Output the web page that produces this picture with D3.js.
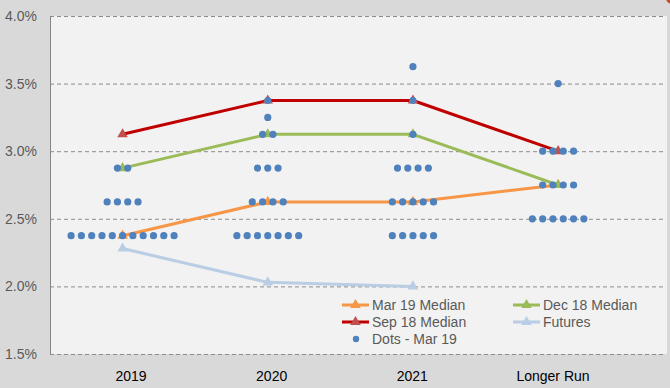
<!DOCTYPE html>
<html>
<head>
<meta charset="utf-8">
<script src="https://cdn.jsdelivr.net/npm/d3@7"></script>
<style>
  body { margin: 0; background: #d9d9d9; }
  svg { display: block; font-family: "Liberation Sans", Arial, sans-serif; }
</style>
</head>
<body>
<svg id="chart" width="670" height="388"></svg>
<script>
// categories on the x axis
var categories = ["2019", "2020", "2021", "Longer Run"];

// median lines
var mar19Median = [2.375, 2.625, 2.625, 2.75];
var dec18Median = [2.875, 3.125, 3.125, 2.75];
var sep18Median = [3.125, 3.375, 3.375, 3.0];
var futures = [2.28, 2.03, 2.00];

// dots - mar 19: rate level and number of dots at that level, per category
var dotRates = [
  [2.875, 2.625, 2.375],
  [3.375, 3.25, 3.125, 2.875, 2.625, 2.375],
  [3.625, 3.375, 3.125, 2.875, 2.625, 2.375],
  [3.5, 3.0, 2.75, 2.5]
];
var dotCounts = [
  [2, 4, 11],
  [1, 1, 2, 3, 4, 7],
  [1, 1, 1, 4, 5, 5],
  [1, 4, 4, 6]
];

var yTicks = [1.5, 2.0, 2.5, 3.0, 3.5, 4.0];

var svg = d3.select("#chart");

var x = d3.scaleLinear().domain([0.5, 4.75]).range([50, 667]);
var y = d3.scaleLinear().domain([1.5, 4.0]).range([354, 16]);
var xLab = d3.scalePoint().domain(categories).range([131, 553]);

var textColor = "#595959";
var dotSpacing = 10.3;

// plot area
svg.append("rect")
  .attr("x", 50).attr("y", 16)
  .attr("width", 617).attr("height", 338)
  .attr("fill", "#f2f2f2");

// gridlines
svg.append("g").selectAll("line")
  .data(yTicks)
  .enter().append("line")
    .attr("x1", 50).attr("x2", 665)
    .attr("y1", function(d) { return y(d) + 0.5; })
    .attr("y2", function(d) { return y(d) + 0.5; })
    .attr("stroke", "#8c8c8c")
    .attr("stroke-width", 1)
    .attr("stroke-dasharray", "4,3");

// y axis line
svg.append("line")
  .attr("x1", 50.5).attr("x2", 50.5)
  .attr("y1", 16).attr("y2", 354.5)
  .attr("stroke", "#868686");

// y labels
svg.append("g").selectAll("text")
  .data(yTicks)
  .enter().append("text")
    .attr("x", 37)
    .attr("y", function(d) { return y(d); })
    .attr("dy", "0.35em")
    .attr("text-anchor", "end")
    .attr("font-size", 14)
    .attr("fill", textColor)
    .text(function(d) { return d.toFixed(1) + "%"; });

// x labels
svg.append("g").selectAll("text")
  .data(categories)
  .enter().append("text")
    .attr("x", function(d) { return xLab(d); })
    .attr("y", 376)
    .attr("dy", "0.35em")
    .attr("text-anchor", "middle")
    .attr("font-size", 14)
    .attr("fill", "#000")
    .text(function(d) { return d; });

var tri = d3.symbol().type(d3.symbolTriangle).size(48);

var series = [
  { name: "Futures", values: futures, line: "#b9cde5", marker: "#b9cde5" },
  { name: "Mar 19 Median", values: mar19Median, line: "#f79646", marker: "#f79646" },
  { name: "Dec 18 Median", values: dec18Median, line: "#9bbb59", marker: "#9bbb59" },
  { name: "Sep 18 Median", values: sep18Median, line: "#c00000", marker: "#c0504d" }
];

var line = d3.line()
  .x(function(d, i) { return x(i + 1); })
  .y(function(d) { return y(d); });

series.forEach(function(s) {
  svg.append("path")
    .attr("d", line(s.values))
    .attr("fill", "none")
    .attr("stroke", s.line)
    .attr("stroke-width", 3)
    .attr("stroke-linejoin", "round");
  svg.append("g").selectAll("path")
    .data(s.values)
    .enter().append("path")
      .attr("d", tri)
      .attr("transform", function(d, i) { return "translate(" + x(i + 1) + "," + y(d) + ")"; })
      .attr("fill", s.marker);
});

// dots
var dots = [];
dotRates.forEach(function(rates, c) {
  rates.forEach(function(r, j) {
    var n = dotCounts[c][j];
    for (var k = 0; k < n; k++) {
      dots.push({ cx: x(c + 1) + (k - (n - 1) / 2) * dotSpacing, rate: r });
    }
  });
});

svg.append("g").selectAll("circle")
  .data(dots)
  .enter().append("circle")
    .attr("cx", function(d) { return d.cx; })
    .attr("cy", function(d) { return y(d.rate); })
    .attr("r", 3.6)
    .attr("fill", "#4f81bd");

// legend
var legendItems = [
  { name: "Mar 19 Median", color: "#f79646", marker: "#f79646", lx: 342, ly: 305 },
  { name: "Dec 18 Median", color: "#9bbb59", marker: "#9bbb59", lx: 513, ly: 305 },
  { name: "Sep 18 Median", color: "#c00000", marker: "#c0504d", lx: 342, ly: 322 },
  { name: "Futures", color: "#b9cde5", marker: "#b9cde5", lx: 513, ly: 322 }
];

var legend = svg.append("g");
legendItems.forEach(function(d) {
  legend.append("line")
    .attr("x1", d.lx).attr("x2", d.lx + 27)
    .attr("y1", d.ly).attr("y2", d.ly)
    .attr("stroke", d.color)
    .attr("stroke-width", 3);
  legend.append("path")
    .attr("d", tri)
    .attr("transform", "translate(" + (d.lx + 13.5) + "," + d.ly + ")")
    .attr("fill", d.marker);
  legend.append("text")
    .attr("x", d.lx + 30)
    .attr("y", d.ly)
    .attr("dy", "0.35em")
    .attr("font-size", 14)
    .attr("fill", textColor)
    .text(d.name);
});
legend.append("circle")
  .attr("cx", 356).attr("cy", 339)
  .attr("r", 3.2)
  .attr("fill", "#4f81bd");
legend.append("text")
  .attr("x", 372).attr("y", 339)
  .attr("dy", "0.35em")
  .attr("font-size", 14)
  .attr("fill", textColor)
  .text("Dots - Mar 19");

// corner mark
svg.append("circle")
  .attr("cx", 672).attr("cy", -2)
  .attr("r", 6)
  .attr("fill", "#d2462d");
</script>
</body>
</html>
